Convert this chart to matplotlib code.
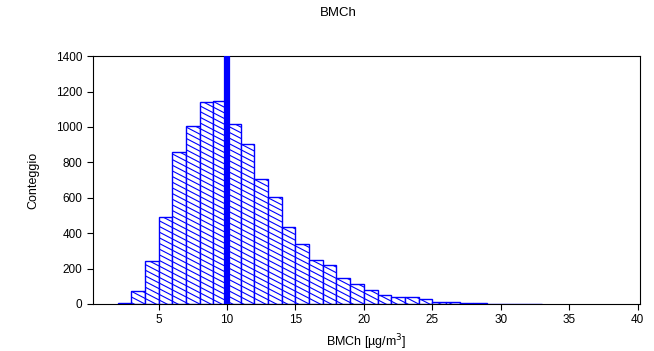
import matplotlib.pyplot as plt
import numpy as np
from matplotlib.collections import LineCollection

plt.rcParams['font.family'] = ['Liberation Sans', 'DejaVu Sans']

# histogram bins (left edge, width 1) and counts
bin_left = np.arange(2, 33)
counts = [8, 75, 243, 493, 857, 1007, 1139, 1147, 1015, 902, 704, 606, 433,
          341, 247, 220, 145, 111, 81, 53, 40, 40, 28, 13, 12, 5, 3, 2, 2, 1, 1]
ref_value = 10

fig = plt.figure(figsize=(6.54, 3.51), dpi=100)
ax = fig.add_axes([0.142, 0.134, 0.837, 0.706])

bars = ax.bar(bin_left, counts, width=1, align='edge', color='white',
              edgecolor='blue', linewidth=1, zorder=2)

# shallow diagonal hatching, clipped to each bar
slope = -40.0   # counts per x unit
step = 32.0     # vertical spacing in counts
offsets = np.arange(0, 1400 + 45 * 40, step)
xs = np.array([0, 41])
segs = [np.column_stack([xs, c + slope * xs]) for c in offsets]
for b in bars:
    lc = LineCollection(segs, colors='blue', linewidths=0.8, zorder=2.5)
    ax.add_collection(lc, autolim=False)
    lc.set_clip_path(b)

ax.axvline(ref_value, color='blue', linewidth=4.5, zorder=3)

ax.set_xlim(0.2, 40.2)
ax.set_ylim(0, 1400)
ax.set_xticks(np.arange(5, 41, 5))
ax.set_yticks(np.arange(0, 1401, 200))
ax.tick_params(direction='out', length=4, labelsize=8.5, top=False, right=False)

ax.set_xlabel('BMCh [µg/m$^3$]', fontsize=9)
ax.set_ylabel('Conteggio', fontsize=9, labelpad=12)
fig.text(338 / 654, 1 - 13 / 351, 'BMCh', ha='center', va='center', fontsize=9.5)

plt.savefig('out.png')
